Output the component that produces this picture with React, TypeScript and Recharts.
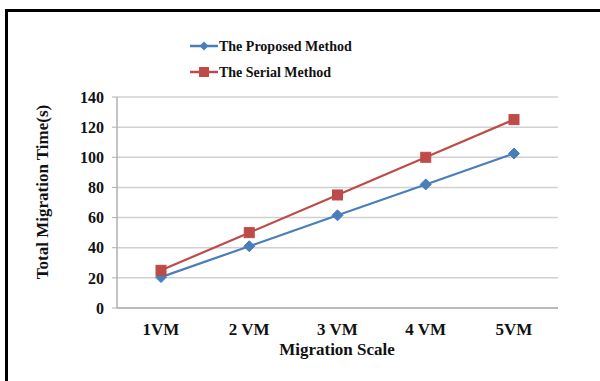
import React from "react";
import { LineChart, Line, XAxis, YAxis, CartesianGrid } from "recharts";

const categories = ["1VM", "2 VM", "3 VM", "4 VM", "5VM"];
const proposed = [20.5, 41, 61.5, 82, 102.5];
const serial = [25, 50, 75, 100, 125];
const yTicks = [0, 20, 40, 60, 80, 100, 120, 140];

const data = categories.map((c, i) => ({ name: c, proposed: proposed[i], serial: serial[i] }));

const BLUE = "#4a7ebb";
const RED = "#be4b48";
const FONT = "'Liberation Serif', 'Times New Roman', serif";

const Diamond = (props: any) => {
  const { cx, cy } = props;
  if (cx == null || cy == null) return null;
  const r = 5.5;
  return <path d={`M${cx},${cy - r}L${cx + r},${cy}L${cx},${cy + r}L${cx - r},${cy}Z`} fill={BLUE} stroke={BLUE} />;
};
const Square = (props: any) => {
  const { cx, cy } = props;
  if (cx == null || cy == null) return null;
  const s = 10;
  return <rect x={cx - s / 2} y={cy - s / 2} width={s} height={s} fill={RED} stroke={RED} />;
};

export default function App() {
  return (
    <div style={{ position: "absolute", left: 0, top: 0, width: 600, height: 381, background: "#fff", fontFamily: FONT }}>
      <div style={{ position: "absolute", left: 5, top: 9, width: 3, height: 372, background: "#000" }} />
      <div style={{ position: "absolute", left: 5, top: 9, width: 595, height: 3, background: "#000" }} />
      <LineChart width={600} height={381} data={data} margin={{ top: 97, right: 42, bottom: 43, left: 57 }}>
        <CartesianGrid vertical={false} stroke="#d0d0d0" strokeWidth={1.5} />
        <XAxis
          dataKey="name"
          height={30}
          padding={{ left: 44, right: 44 }}
          tickLine={false}
          axisLine={{ stroke: "#b0b0b0", strokeWidth: 1.5 }}
          tick={{ fill: "#111", fontSize: 17, fontWeight: "bold", fontFamily: FONT }}
          tickMargin={9}
        />
        <YAxis
          width={60}
          domain={[0, 140]}
          ticks={yTicks}
          interval={0}
          tickLine={{ stroke: "#b0b0b0" }}
          tickSize={5}
          axisLine={{ stroke: "#b0b0b0", strokeWidth: 1.5 }}
          tick={{ fill: "#111", fontSize: 16, fontWeight: "bold", fontFamily: FONT }}
          tickMargin={8}
        />
        <Line
          type="linear"
          dataKey="proposed"
          stroke={BLUE}
          strokeWidth={2.2}
          dot={<Diamond />}
          isAnimationActive={false}
        />
        <Line
          type="linear"
          dataKey="serial"
          stroke={RED}
          strokeWidth={2.2}
          dot={<Square />}
          isAnimationActive={false}
        />
        <text x={337} y={355} textAnchor="middle" fontFamily={FONT} fontWeight="bold" fontSize={17} fill="#111">
          Migration Scale
        </text>
        <text
          x={48}
          y={192}
          transform="rotate(-90 48 192)"
          textAnchor="middle"
          fontFamily={FONT}
          fontWeight="bold"
          fontSize={17}
          fill="#111"
        >
          Total Migration Time(s)
        </text>
        <g>
          <line x1={190} y1={46} x2={218} y2={46} stroke={BLUE} strokeWidth={2.5} />
          <path d="M204,41.5L208.5,46L204,50.5L199.5,46Z" fill={BLUE} />
          <text x={219} y={51} fontFamily={FONT} fontWeight="bold" fontSize={14} fill="#111">
            The Proposed Method
          </text>
          <line x1={190} y1={72} x2={218} y2={72} stroke={RED} strokeWidth={2.5} />
          <rect x={199} y={67} width={10} height={10} fill={RED} />
          <text x={219} y={77} fontFamily={FONT} fontWeight="bold" fontSize={14} fill="#111">
            The Serial Method
          </text>
        </g>
      </LineChart>
    </div>
  );
}
